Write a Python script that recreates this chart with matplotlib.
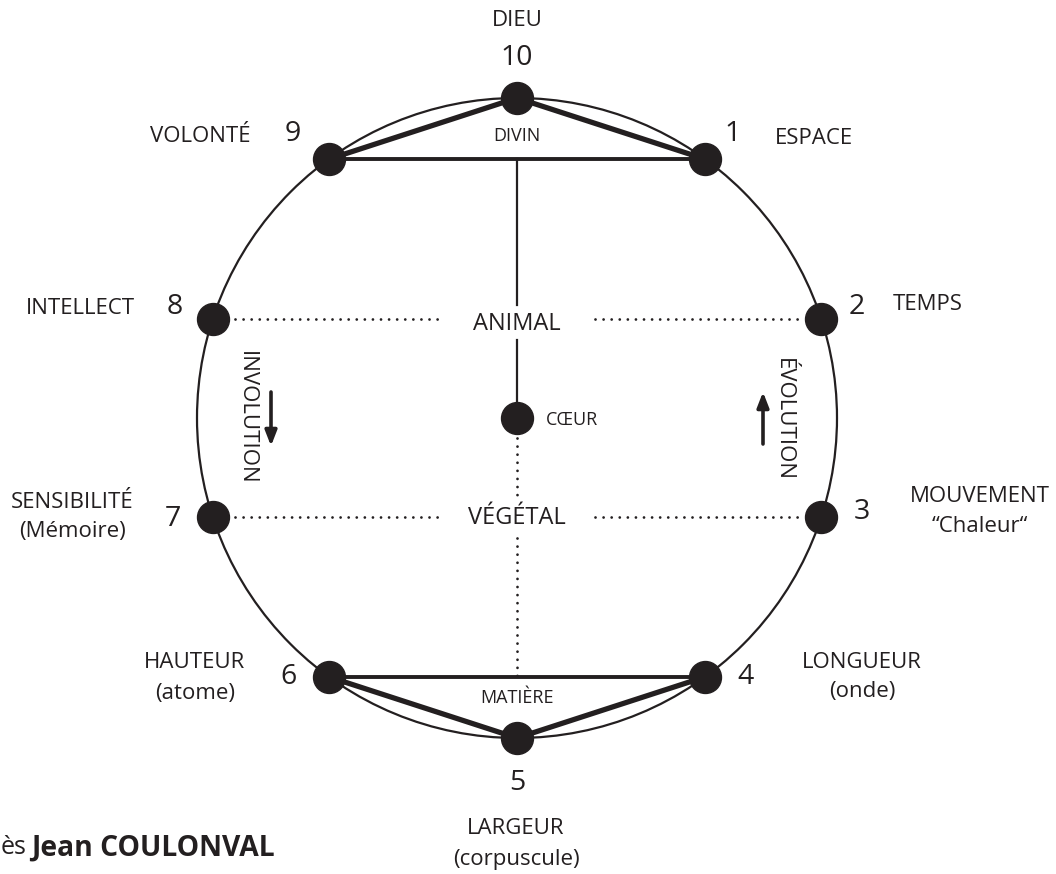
import numpy as np
import matplotlib
matplotlib.use("Agg")
import matplotlib.pyplot as plt
from matplotlib.patches import Circle

# ---- data ----
numbers = [1, 2, 3, 4, 5, 6, 7, 8, 9, 10]
names = ["ESPACE", "TEMPS", "MOUVEMENT", "LONGUEUR", "LARGEUR",
         "HAUTEUR", "SENSIBILITÉ", "INTELLECT", "VOLONTÉ", "DIEU"]
subnames = ["", "", "“Chaleur“", "(onde)", "(corpuscule)",
            "(atome)", "(Mémoire)", "", "", ""]
angles_deg = [90 - 36 * n for n in numbers]   # decagon positions
levels = ["DIVIN", "ANIMAL", "CŒUR", "VÉGÉTAL", "MATIÈRE"]
arrows = ["INVOLUTION", "ÉVOLUTION"]
credit_pre, credit_name = "ès", "Jean COULONVAL"

INK = "#231f20"
plt.rcParams['font.family'] = ['Open Sans', 'DejaVu Sans']

W, H = 1056, 874
fig = plt.figure(figsize=(W / 100, H / 100), dpi=100)
ax = fig.add_axes([0, 0, 1, 1])
ax.set_xlim(0, W)
ax.set_ylim(H, 0)
ax.axis('off')

cx, cy, R = 517, 418, 320
th = np.radians(angles_deg)
px = cx + R * np.cos(th)
py = cy - R * np.sin(th)
P = {n: (x, y) for n, x, y in zip(numbers, px, py)}

ax.add_patch(Circle((cx, cy), R, fill=False, lw=1.6, ec=INK, zorder=1))

# triangles
for a, b, lw in [(10, 9, 3.8), (10, 1, 3.8), (9, 1, 2.8),
                 (5, 6, 3.8), (5, 4, 3.8), (6, 4, 2.8)]:
    ax.plot([P[a][0], P[b][0]], [P[a][1], P[b][1]], color=INK, lw=lw,
            solid_capstyle='round', zorder=2)

# vertical axis
ax.plot([cx, cx], [P[9][1], 305], color=INK, lw=1.6, zorder=2)
ax.plot([cx, cx], [340, cy], color=INK, lw=1.6, zorder=2)
dot_ls = (0, (0.01, 2.9))
ax.plot([cx, cx], [cy + 20, 502], color=INK, lw=2.0, ls=dot_ls,
        dash_capstyle='round', zorder=2)
ax.plot([cx, cx], [538, P[6][1]], color=INK, lw=2.0, ls=dot_ls,
        dash_capstyle='round', zorder=2)

# horizontal dotted lines
for yy, (l, r) in [(P[8][1], (P[8][0], P[2][0])), (P[7][1], (P[7][0], P[3][0]))]:
    ax.plot([l + 22, 440], [yy, yy], color=INK, lw=2.0, ls=dot_ls,
            dash_capstyle='round', zorder=2)
    ax.plot([595, r - 20], [yy, yy], color=INK, lw=2.0, ls=dot_ls,
            dash_capstyle='round', zorder=2)

# dots
ax.plot(px, py, 'o', ms=23, color=INK, mec=INK, zorder=5)
ax.plot([cx], [cy], 'o', ms=23, color=INK, zorder=5)

# numbers and names
num_off = {1: (27, -25), 2: (35, -12), 3: (40, -5), 4: (40, 0), 5: (0, 45),
           6: (-40, 0), 7: (-40, 2), 8: (-38, -12), 9: (-36, -25), 10: (0, -40)}
name_pos = {1: (814, 138), 2: (928, 305), 3: (980, 497), 4: (862, 662),
            5: (516, 829), 6: (195, 663), 7: (72, 502), 8: (80, 308),
            9: (200, 136), 10: (517, 21)}
for n, nm, sub in zip(numbers, names, subnames):
    x, y = P[n]
    dx, dy = num_off[n]
    ax.text(x + dx, y + dy, str(n), fontsize=20.5, color=INK,
            ha='center', va='center')
    nx, ny = name_pos[n]
    ax.text(nx, ny, nm, fontsize=16, color=INK, ha='center', va='center')
    if sub:
        ax.text(nx, ny + 30, sub, fontsize=16, color=INK,
                ha='center', va='center')

# level labels
ax.text(cx, 136, levels[0], fontsize=13, color=INK, ha='center', va='center')
ax.text(cx, 324, levels[1], fontsize=17, color=INK, ha='center', va='center')
ax.text(546, 420, levels[2], fontsize=13, color=INK, ha='left', va='center')
ax.text(cx, 518, levels[3], fontsize=17, color=INK, ha='center', va='center')
ax.text(cx, 698, levels[4], fontsize=13, color=INK, ha='center', va='center')

# involution / evolution
ax.text(246, 418, arrows[0], fontsize=16, color=INK, rotation=-90,
        ha='center', va='center')
ax.text(783, 420, arrows[1], fontsize=16, color=INK, rotation=-90,
        ha='center', va='center')
ax.annotate("", xy=(271, 446), xytext=(271, 392),
            arrowprops=dict(arrowstyle='-|>,head_length=0.9,head_width=0.35',
                            lw=2.6, color=INK, shrinkA=0, shrinkB=0))
ax.annotate("", xy=(763, 392), xytext=(763, 444),
            arrowprops=dict(arrowstyle='-|>,head_length=0.9,head_width=0.35',
                            lw=2.6, color=INK, shrinkA=0, shrinkB=0))

# credit
ax.text(1, 848, credit_pre, fontsize=18, color=INK, ha='left', va='center')
ax.text(31, 848, credit_name, fontsize=20.3, fontweight='bold', color=INK,
        ha='left', va='center')

fig.savefig("out.png", dpi=100)
